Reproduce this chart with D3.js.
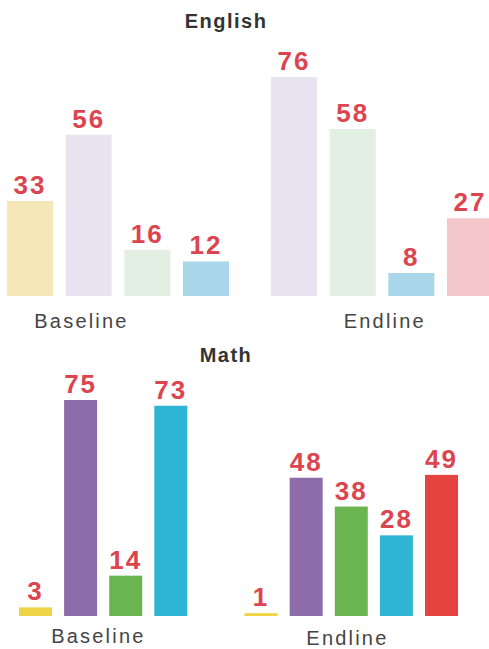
<!DOCTYPE html>
<html>
<head>
<meta charset="utf-8">
<script src="https://cdn.jsdelivr.net/npm/d3@7"></script>
<style>
  html, body { margin: 0; padding: 0; background: #fff; }
  svg { display: block; }
</style>
</head>
<body>
<div id="chart"></div>
<script>
// ---------- data ----------
const groups = ["Baseline", "Endline"];
const seriesKeys = ["yellow", "purple", "green", "blue", "red"];
const englishBaseline = [33, 56, 16, 12, null];
const englishEndline  = [null, 76, 58, 8, 27];
const mathBaseline    = [3, 75, 14, 73, null];
const mathEndline     = [1, 48, 38, 28, 49];
const panelTitles = ["English", "Math"];

// ---------- styles ----------
const englishColors = ["#f6e7b9", "#e7e3ef", "#e2efe2", "#a9d7e9", "#f3c6c9"];
const mathColors    = ["#efd448", "#8d6cab", "#6bb452", "#2fb5d4", "#e4433f"];

const W = 489, H = 649;
const svg = d3.select("#chart").append("svg").attr("width", W).attr("height", H);

const panels = [
  { title: panelTitles[0], data: [englishBaseline, englishEndline], colors: englishColors,
    y0: 296, slotRange: [7, 447], slotDomain: [0, 7.5], bw: 46, endOffset: 3.5,
    titleY: 28, groupLabelSlots: [1.27, 6.44], groupLabelY: [328, 328] },
  { title: panelTitles[1], data: [mathBaseline, mathEndline], colors: mathColors,
    y0: 616, slotRange: [19, 425], slotDomain: [0, 9], bw: 33, endOffset: 5,
    titleY: 362, groupLabelSlots: [1.76, 7.28], groupLabelY: [643, 645] }
];

panels.forEach(p => {
  const x = d3.scaleLinear().domain(p.slotDomain).range(p.slotRange);
  const y = d3.scaleLinear().domain([0, 100]).range([p.y0, p.y0 - 288]);
  const g = svg.append("g");

  g.append("text")
    .attr("x", 226).attr("y", p.titleY)
    .attr("text-anchor", "middle")
    .style("font-family", "Liberation Sans, Arial, sans-serif")
    .style("font-weight", "bold").style("font-size", "20px")
    .style("letter-spacing", "1.5px")
    .attr("fill", "#333").text(p.title);

  const bars = [];
  p.data.forEach((vals, gi) => {
    vals.forEach((v, si) => {
      if (v == null) return;
      bars.push({ group: groups[gi], key: seriesKeys[si], si, value: v,
                  slot: si + (gi === 1 ? p.endOffset : 0) });
    });
  });

  g.selectAll("rect.bar").data(bars).enter().append("rect")
    .attr("class", "bar")
    .attr("x", d => x(d.slot))
    .attr("width", p.bw)
    .attr("y", d => y(d.value))
    .attr("height", d => p.y0 - y(d.value))
    .attr("fill", d => p.colors[d.si]);

  g.selectAll("text.val").data(bars).enter().append("text")
    .attr("class", "val")
    .attr("x", d => x(d.slot) + p.bw / 2)
    .attr("y", d => y(d.value) - 7)
    .attr("text-anchor", "middle")
    .style("font-family", "Liberation Sans, Arial, sans-serif")
    .style("font-weight", "bold").style("font-size", "26px")
    .style("letter-spacing", "2px")
    .attr("fill", "#dc4450").text(d => d.value);

  groups.forEach((gname, gi) => {
    g.append("text")
      .attr("x", x(p.groupLabelSlots[gi]))
      .attr("y", p.groupLabelY[gi])
      .attr("text-anchor", "middle")
      .style("font-family", "Liberation Sans, Arial, sans-serif")
      .style("font-size", "20px")
      .style("letter-spacing", "2.2px")
      .attr("fill", "#444").text(gname);
  });
});
</script>
</body>
</html>
